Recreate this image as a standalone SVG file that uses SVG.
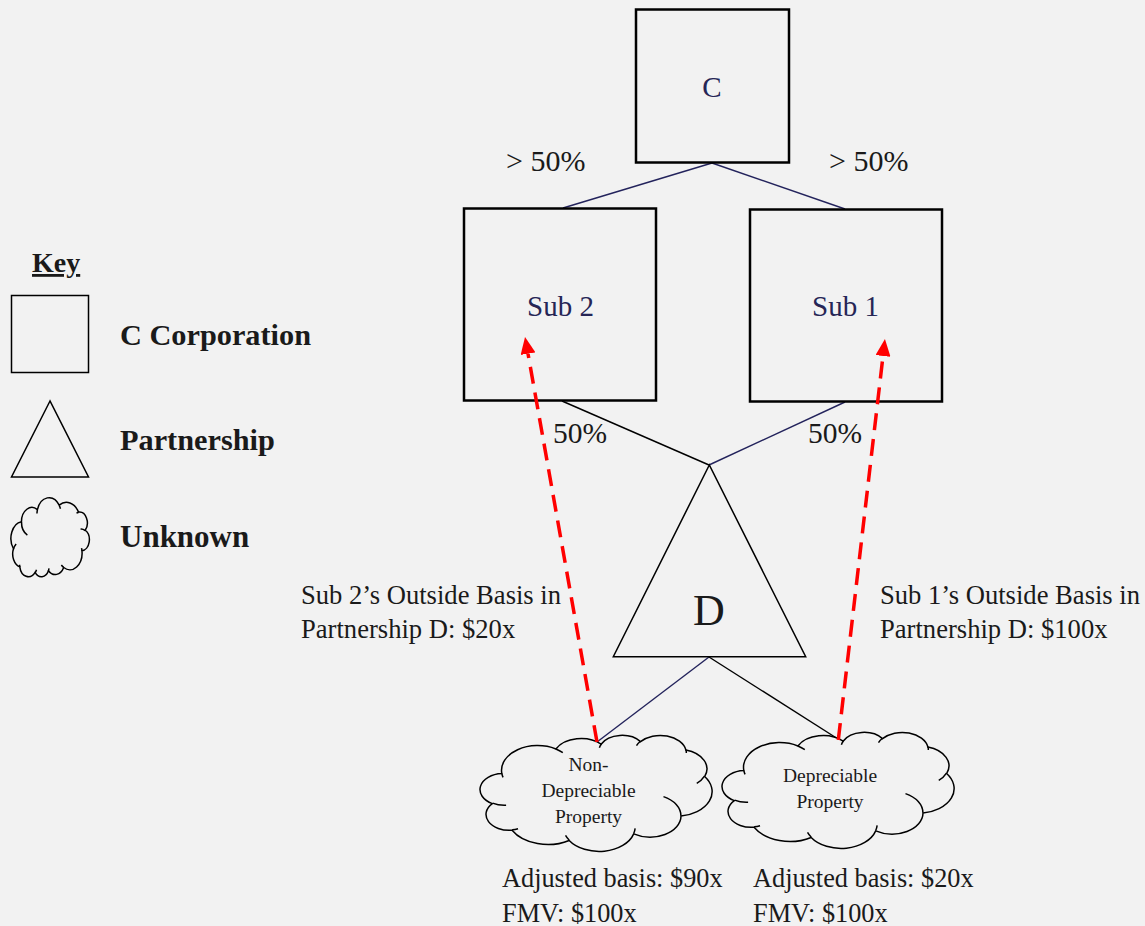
<svg xmlns="http://www.w3.org/2000/svg" width="1145" height="926" viewBox="0 0 1145 926">
<style>
.box{fill:#f2f2f2;stroke:#000;stroke-width:2.5}
.shape{fill:#f2f2f2;stroke:#000;stroke-width:1.5}
.cl{fill:#f2f2f2;stroke:#000;stroke-width:1.5}
.inner{fill:none;stroke:#000;stroke-width:1.5}
.navy{stroke:#23235c;stroke-width:1.4;fill:none}
.blk{stroke:#000;stroke-width:1.4;fill:none}
.red{stroke:#ff0000;stroke-width:3.5;stroke-dasharray:17 9;fill:none}
.t{font-family:"Liberation Serif","Times New Roman",serif;fill:#1a1a1a}
.nv{fill:#262656}
.b{font-weight:bold}
</style>
<defs>
<marker id="ah" markerUnits="userSpaceOnUse" viewBox="0 0 17 15" refX="0" refY="7.5" markerWidth="17" markerHeight="15" orient="auto">
<path d="M0,0 L17,7.5 L0,15 Z" fill="#ff0000"/>
</marker>
<g id="cloudShape">
<path class="cl" vector-effect="non-scaling-stroke" d="M39,143.7 A67.53,91.9 0 0 1 140.06,52.03 A53.33,72.67 0 0 1 224.59,34.36 A43.65,59.45 0 0 1 298.36,24.87 A48.57,65.95 0 0 1 383.21,55.83 A53.33,72.73 0 0 1 418.22,154.67 A67.75,92.2 0 0 1 374.07,302.09 A57.85,78.67 0 0 1 285.58,368.19 A67.52,92.15 0 0 1 164.83,392.71 A77.2,105.43 0 0 1 58.07,354.76 A43.6,59.18 0 0 1 21.17,255.52 A43.45,59.45 0 0 1 39,143.7 Z"/>
<path class="inner" vector-effect="non-scaling-stroke" d="M46.93,261.77 A43.45,59.45 0 0 1 21.6,253.8 M69.28,348.99 A43.6,59.18 0 0 1 58.2,352.81 M164.78,390.9 A67.52,92.15 0 0 1 158.1,373.5 M288.27,347.51 A67.52,92.15 0 0 1 285.6,366.59 M341.29,229.54 A57.85,78.67 0 0 1 373.81,300.9 M417.98,153.54 A53.33,72.73 0 0 1 403.49,180.31 M383.24,54.26 A48.57,65.95 0 0 1 384,66.9 M290.78,39.52 A48.57,65.95 0 0 1 298.2,23.4 M221.41,47.2 A43.65,59.45 0 0 1 225,33.29 M140,51.92 A67.53,91.9 0 0 1 153,65.41 M41.27,157.89 A67.53,91.9 0 0 1 39,143.69"/>
</g>
</defs>
<rect x="0" y="0" width="1145" height="926" fill="#f2f2f2"/>

<g id="key">
<text class="t b" x="32" y="272" font-size="28" text-decoration="underline">Key</text>
<rect class="shape" x="11.5" y="295.5" width="77" height="77"/>
<text class="t b" x="120" y="345" font-size="30.3">C Corporation</text>
<polygon class="shape" points="50,401 11.5,477 88.5,477"/>
<text class="t b" x="120" y="450" font-size="30.3">Partnership</text>
<use href="#cloudShape" transform="translate(89,577) scale(-0.1806,-0.1829)"/>
<text class="t b" x="120" y="547" font-size="31">Unknown</text>
</g>

<g id="connectors">
<line class="navy" x1="712" y1="163" x2="563" y2="208"/>
<line class="navy" x1="712" y1="163" x2="845" y2="209"/>
<line class="blk" x1="562" y1="401" x2="709" y2="465"/>
<line class="navy" x1="845" y1="402" x2="709" y2="465"/>
<line class="navy" x1="709" y1="657" x2="597" y2="742"/>
<line class="blk" x1="709" y1="657" x2="838" y2="739"/>
</g>

<g id="nodeC">
<rect class="box" x="636" y="9.5" width="153" height="153"/>
<text class="t nv" x="712" y="97" font-size="29" text-anchor="middle">C</text>
</g>

<g id="nodeSub2">
<rect class="box" x="464" y="208.5" width="192" height="192"/>
<text class="t nv" x="560.5" y="315.5" font-size="29" text-anchor="middle">Sub 2</text>
</g>

<g id="nodeSub1">
<rect class="box" x="750" y="209.5" width="192" height="192"/>
<text class="t nv" x="845.5" y="316" font-size="29" text-anchor="middle">Sub 1</text>
</g>

<g id="nodeD">
<polygon class="shape" points="709.3,465 613.3,656.7 805.7,656.7"/>
<text class="t" x="709" y="625" font-size="44" text-anchor="middle">D</text>
</g>

<g id="nodeNonDep">
<use href="#cloudShape" transform="translate(481,735) scale(0.5347,0.2685)"/>
<text class="t" font-size="19.5" text-anchor="middle"><tspan x="588.5" y="771">Non-</tspan><tspan x="588.5" y="797">Depreciable</tspan><tspan x="588.5" y="822.5">Property</tspan></text>
</g>

<g id="nodeDep">
<use href="#cloudShape" transform="translate(723,732) scale(0.5347,0.2685)"/>
<text class="t" font-size="19.5" text-anchor="middle"><tspan x="830" y="781.5">Depreciable</tspan><tspan x="830" y="807.5">Property</tspan></text>
</g>

<g id="labels">
<text class="t" x="506" y="171" font-size="30">&gt; 50%</text>
<text class="t" x="829" y="171" font-size="30">&gt; 50%</text>
<text class="t" x="553" y="443" font-size="29.5">50%</text>
<text class="t" x="808" y="443" font-size="29.5">50%</text>
<text class="t" font-size="26.6"><tspan x="301" y="603.5">Sub 2’s Outside Basis in</tspan><tspan x="301" y="638">Partnership D: $20x</tspan></text>
<text class="t" font-size="26.6"><tspan x="880" y="603.5">Sub 1’s Outside Basis in</tspan><tspan x="880" y="638">Partnership D: $100x</tspan></text>
<text class="t" font-size="26.3"><tspan x="502" y="887">Adjusted basis: $90x</tspan><tspan x="502" y="921.5">FMV: $100x</tspan></text>
<text class="t" font-size="26.3"><tspan x="753" y="887">Adjusted basis: $20x</tspan><tspan x="753" y="921.5">FMV: $100x</tspan></text>
</g>

<g id="arrows">
<line class="red" x1="597" y1="742" x2="528" y2="353.7" marker-end="url(#ah)"/>
<line class="red" x1="838.3" y1="740" x2="883" y2="356" marker-end="url(#ah)"/>
</g>
</svg>
